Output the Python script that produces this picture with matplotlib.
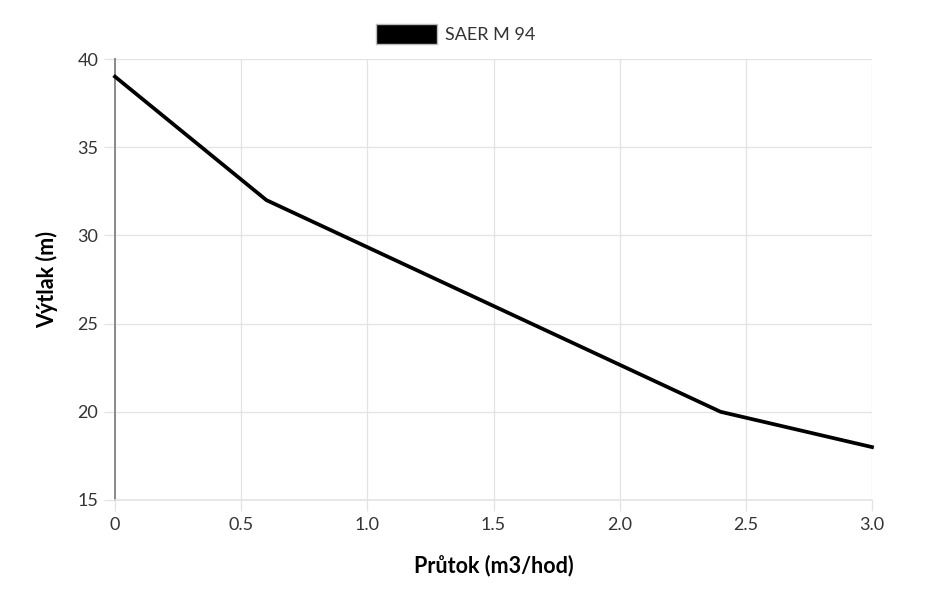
import matplotlib
matplotlib.use("Agg")
import matplotlib.pyplot as plt
from matplotlib.patches import Patch

plt.rcParams['font.family'] = ['Lato', 'DejaVu Sans']

# data
flow = [0, 0.6, 2.4, 3.0]
head = [39, 32, 20, 18]
series_name = 'SAER M 94'

xticks = [0, 0.5, 1.0, 1.5, 2.0, 2.5, 3.0]
xticklabels = ['0', '0.5', '1.0', '1.5', '2.0', '2.5', '3.0']
yticks = [15, 20, 25, 30, 35, 40]

fig = plt.figure(figsize=(9.3, 5.96), dpi=100)
ax = fig.add_axes([115 / 930, 1 - 500 / 596, 757 / 930, 441 / 596])

ax.plot(flow, head, color='black', linewidth=2.7, solid_joinstyle='miter',
        clip_on=False, zorder=3)

ax.set_xlim(0, 3.0)
ax.set_ylim(15, 40)
ax.set_xticks(xticks)
ax.set_xticklabels(xticklabels)
ax.set_yticks(yticks)

grid_col = '#e3e3e3'
ax.grid(True, color=grid_col, linewidth=0.9)
ax.set_axisbelow(True)
for s in ['top', 'right']:
    ax.spines[s].set_visible(False)
ax.spines['bottom'].set_color(grid_col)
ax.spines['bottom'].set_linewidth(1.2)
ax.spines['left'].set_color('#8a8a8a')
ax.spines['left'].set_linewidth(1.4)
ax.tick_params(axis='both', length=8, width=0.9, color=grid_col,
               labelsize=13, labelcolor='#333333', pad=4)

ax.set_xlabel('Průtok (m3/hod)', fontsize=15.5, fontweight='bold', labelpad=16)
ax.set_ylabel('Výtlak (m)', fontsize=15.5, fontweight='bold', labelpad=14)

handle = Patch(facecolor='black', edgecolor='#bbbbbb', linewidth=1)
fig.legend([handle], [series_name], loc='center', bbox_to_anchor=(0.49, 1 - 34 / 596),
           frameon=False, handlelength=3.4, handleheight=1.3, handletextpad=0.45,
           fontsize=13, labelcolor='#333333')

fig.savefig('out.png', dpi=100, facecolor='white')
